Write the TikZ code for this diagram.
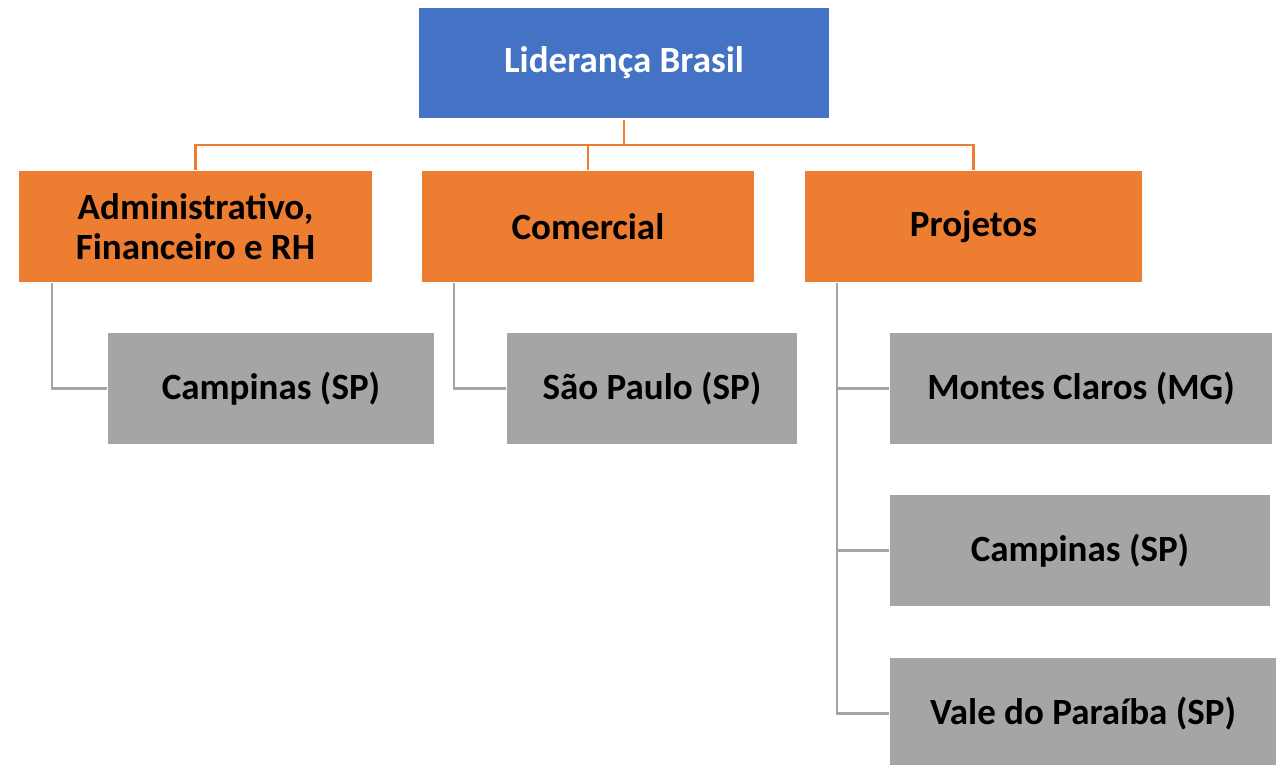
\documentclass[tikz,border=0pt]{standalone}
\usepackage{fontspec}
\setmainfont{Carlito}
\definecolor{cblue}{HTML}{4472C4}
\definecolor{corange}{HTML}{ED7D31}
\definecolor{cgray}{HTML}{A5A5A5}
\definecolor{cgline}{HTML}{A5A5A5}
\begin{document}
\begin{tikzpicture}[x=1pt,y=1pt,
  box/.style={rectangle, draw=white, line width=1.2pt, inner sep=0pt, align=center,
    font=\fontsize{37}{40}\selectfont\bfseries},
  bluebox/.style={box, fill=cblue, text=white},
  orangebox/.style={box, fill=corange, text=black},
  graybox/.style={box, fill=cgray, text=black},
  oline/.style={draw=corange, line width=2.6pt},
  gline/.style={draw=cgline, line width=2.8pt}]
\useasboundingbox (0,0) rectangle (1283,-765);
\node[bluebox, minimum width=412, minimum height=112] (top) at (624,-63) {Liderança Brasil};
\node[orangebox, minimum width=354, minimum height=112] (admin) at (195.5,-226.5) {Administrativo,\\Financeiro e RH};
\node[orangebox, minimum width=333, minimum height=112] (com) at (588,-226.5) {Comercial};
\node[orangebox, minimum width=338, minimum height=112] (proj) at (973.5,-226.5) {Projetos};
\node[graybox, minimum width=327, minimum height=112] (g1) at (271,-388.5) {Campinas (SP)};
\node[graybox, minimum width=291, minimum height=112] (g2) at (652,-388.5) {São Paulo (SP)};
\node[graybox, minimum width=383, minimum height=112] (g3) at (1081,-388.5) {Montes Claros (MG)};
\node[graybox, minimum width=381, minimum height=112] (g4) at (1080,-550.5) {Campinas (SP)};
\node[graybox, minimum width=387, minimum height=112] (g5) at (1083,-713.5) {Vale do Paraíba (SP)};
\coordinate (bus) at (0,-145);
\draw[oline] (top.south) -- (top.south |- bus);
\draw[oline, line cap=rect] (admin.north |- bus) -- (proj.north |- bus);
\draw[oline] (admin.north |- bus) -- (admin.north);
\draw[oline] (com.north |- bus) -- (com.north);
\draw[oline] (proj.north |- bus) -- (proj.north);
\draw[gline] ([xshift=34]admin.south west) |- (g1.west);
\draw[gline] ([xshift=33]com.south west) |- (g2.west);
\draw[gline] ([xshift=33]proj.south west) |- (g3.west);
\draw[gline] ([xshift=33]proj.south west) |- (g4.west);
\draw[gline] ([xshift=33]proj.south west) |- (g5.west);
\end{tikzpicture}
\end{document}
